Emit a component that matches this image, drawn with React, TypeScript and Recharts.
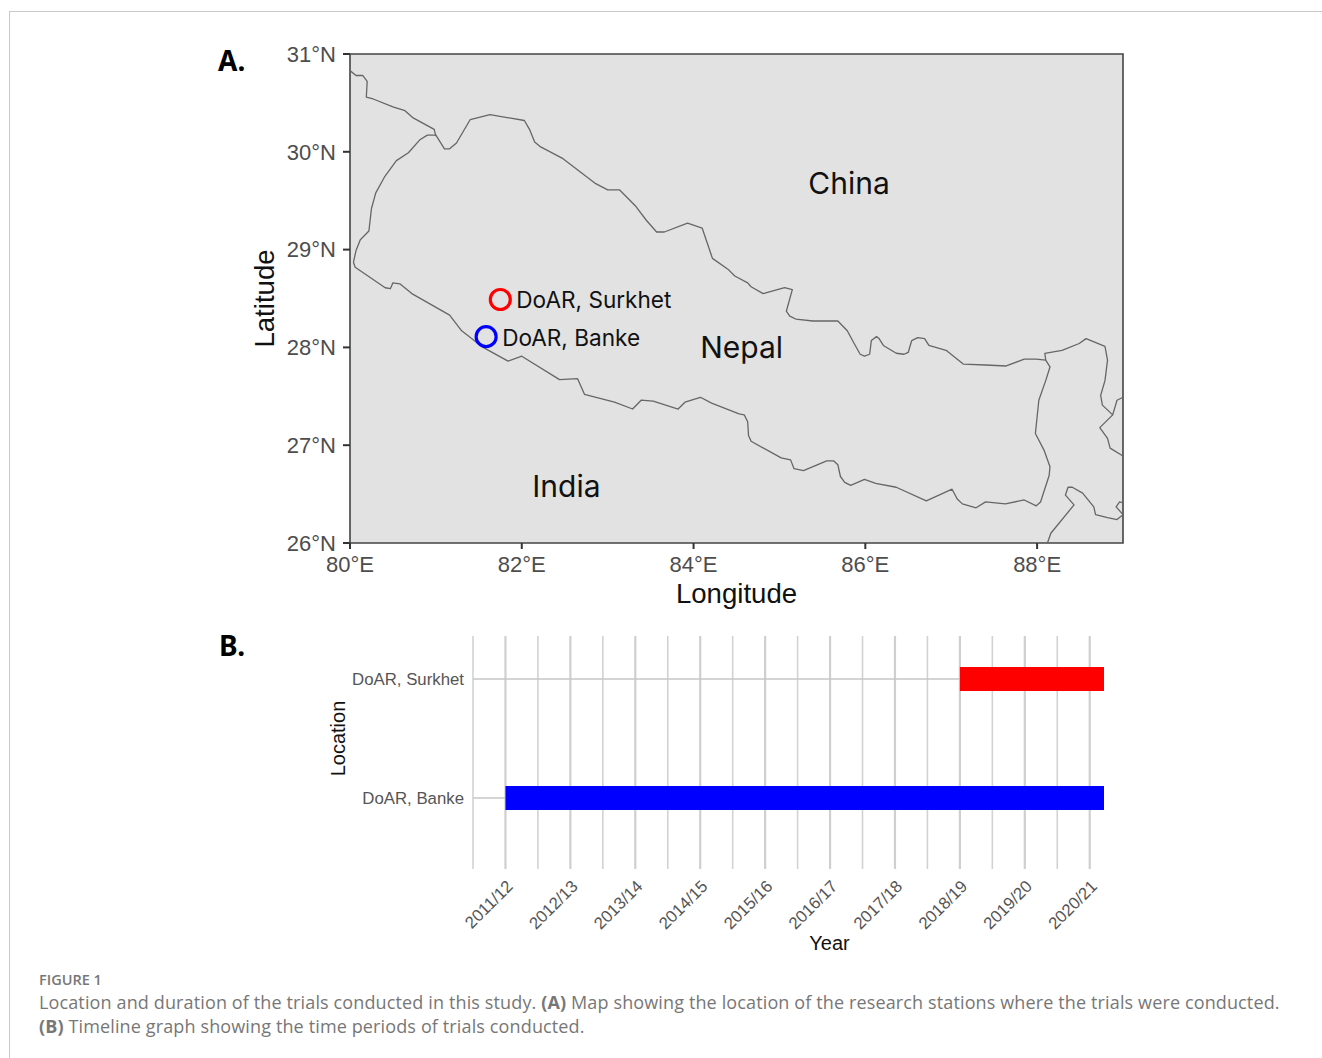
import {
  CartesianGrid,
  ReferenceArea,
  Scatter,
  ScatterChart,
  XAxis,
  YAxis,
} from 'recharts';

type Coord = [number, number];

// Border traces as [longitude, latitude]
const nepalBorder: Coord[] = [
  [80.04, 28.87], [80.07, 28.99], [80.12, 29.1], [80.22, 29.19], [80.25, 29.42], [80.3, 29.58],
  [80.4, 29.74], [80.54, 29.91], [80.68, 29.99], [80.81, 30.12], [80.9, 30.17], [81.0, 30.17],
  [81.1, 30.03], [81.16, 30.03], [81.24, 30.09], [81.4, 30.33], [81.63, 30.38], [82.03, 30.32],
  [82.09, 30.23], [82.15, 30.1], [82.22, 30.05], [82.48, 29.93], [82.85, 29.68], [83.0, 29.61],
  [83.14, 29.61], [83.33, 29.44], [83.45, 29.3], [83.57, 29.18], [83.66, 29.18], [83.93, 29.27],
  [84.1, 29.22], [84.22, 28.91], [84.4, 28.8], [84.48, 28.73], [84.63, 28.66], [84.67, 28.62],
  [84.81, 28.55], [85.06, 28.61], [85.15, 28.59], [85.08, 28.37], [85.12, 28.32], [85.19, 28.29],
  [85.39, 28.27], [85.68, 28.27], [85.79, 28.17], [85.87, 28.04], [85.94, 27.93], [85.99, 27.91],
  [86.05, 27.93], [86.07, 28.07], [86.13, 28.11], [86.16, 28.09], [86.21, 28.02], [86.36, 27.94],
  [86.45, 27.93], [86.5, 27.95], [86.54, 28.07], [86.61, 28.1], [86.69, 28.09], [86.74, 28.02],
  [86.94, 27.97], [87.14, 27.83], [87.4, 27.82], [87.64, 27.81], [87.85, 27.88], [87.99, 27.88],
  [88.1, 27.87], [88.15, 27.8], [88.1, 27.66], [88.02, 27.46], [87.98, 27.12], [88.08, 26.95],
  [88.15, 26.78], [88.14, 26.69], [88.04, 26.42], [87.99, 26.38], [87.85, 26.44], [87.63, 26.4],
  [87.4, 26.42], [87.29, 26.36], [87.13, 26.4], [87.07, 26.45], [87.01, 26.55], [86.71, 26.43],
  [86.36, 26.57], [86.12, 26.61], [85.99, 26.65], [85.83, 26.59], [85.76, 26.62], [85.71, 26.68],
  [85.68, 26.8], [85.63, 26.84], [85.55, 26.84], [85.28, 26.74], [85.17, 26.76], [85.13, 26.85],
  [85.02, 26.87], [84.67, 27.04], [84.64, 27.1], [84.63, 27.24], [84.59, 27.31], [84.53, 27.32],
  [84.21, 27.43], [84.08, 27.49], [83.9, 27.44], [83.82, 27.37], [83.53, 27.45], [83.39, 27.46],
  [83.29, 27.37], [83.08, 27.44], [82.73, 27.52], [82.65, 27.68], [82.44, 27.67], [82.0, 27.91],
  [81.84, 27.86], [81.55, 28.0], [81.3, 28.17], [81.16, 28.33], [80.72, 28.55], [80.58, 28.65],
  [80.5, 28.66], [80.47, 28.6], [80.41, 28.61], [80.06, 28.82], [80.04, 28.87],
];
const chinaIndiaBorder: Coord[] = [
  [80.0, 30.83], [80.07, 30.78], [80.15, 30.78], [80.2, 30.72], [80.19, 30.56], [80.27, 30.54],
  [80.5, 30.46], [80.64, 30.42], [80.73, 30.35], [80.98, 30.23], [81.0, 30.16],
];
const sikkimBorder: Coord[] = [
  [88.1, 27.87], [88.09, 27.94], [88.29, 27.97], [88.49, 28.04], [88.57, 28.09], [88.79, 28.01],
  [88.82, 27.87], [88.79, 27.66], [88.74, 27.51], [88.76, 27.41], [88.88, 27.31], [88.93, 27.46],
  [89.0, 27.49],
];
const bhutanBranch: Coord[] = [
  [88.88, 27.31], [88.73, 27.18], [88.82, 27.07], [88.85, 26.97], [89.0, 26.89],
];
const bangladeshBorder: Coord[] = [
  [88.12, 26.0], [88.16, 26.1], [88.43, 26.39], [88.33, 26.49], [88.36, 26.57], [88.41, 26.57],
  [88.53, 26.51], [88.66, 26.37], [88.68, 26.29], [88.82, 26.26], [88.93, 26.24], [89.0, 26.29],
  [88.92, 26.37], [88.96, 26.42], [89.0, 26.41],
];
const borders = [nepalBorder, chinaIndiaBorder, sikkimBorder, bhutanBranch, bangladeshBorder];

const lonTicks = [80, 82, 84, 86, 88];
const latTicks = [26, 27, 28, 29, 30, 31];

const stations = [
  { name: 'DoAR, Surkhet', lon: 81.75, lat: 28.49, color: '#ff0000' },
  { name: 'DoAR, Banke', lon: 81.585, lat: 28.11, color: '#0000ff' },
];
const countries = [
  { name: 'China', lon: 85.81, lat: 29.67 },
  { name: 'Nepal', lon: 84.56, lat: 27.99 },
  { name: 'India', lon: 82.52, lat: 26.57 },
];

// Timeline
const seasons = ['2011/12', '2012/13', '2013/14', '2014/15', '2015/16', '2016/17', '2017/18', '2018/19', '2019/20', '2020/21'];
const seasonStarts = [2011, 2012, 2013, 2014, 2015, 2016, 2017, 2018, 2019, 2020];
const halfYears = [2010.5, 2011.5, 2012.5, 2013.5, 2014.5, 2015.5, 2016.5, 2017.5, 2018.5, 2019.5];
const locations = ['DoAR, Banke', 'DoAR, Surkhet'];
const surkhetPeriod = [2018, 2020.22];
const bankePeriod = [2011, 2020.22];

const toPoints = (line: Coord[]) => line.map(([lon, lat]) => ({ lon, lat }));
const axisFont = 'Liberation Sans, Arial, sans-serif';
const noteFont = '"Open Sans", "Noto Sans", sans-serif';
const mapFont = 'Inter, "Noto Sans", sans-serif';

const StationMark = ({ cx, cy, payload }: any) => (
  <g>
    <circle cx={cx} cy={cy} r={10} fill="none" stroke={payload.color} strokeWidth={3.2} />
    <text x={cx + 16} y={cy + 9} fontFamily={mapFont} fontSize={22.6} fill="#111">
      {payload.name}
    </text>
  </g>
);

const CountryName = ({ cx, cy, payload }: any) => (
  <text x={cx} y={cy + 10} textAnchor="middle" fontFamily={mapFont} fontSize={30} fill="#111">
    {payload.name}
  </text>
);

function MapPanel() {
  return (
    <ScatterChart
      width={950}
      height={600}
      margin={{ top: 24, right: 27, left: 0, bottom: 0 }}
      style={{ position: 'absolute', left: 200, top: 30 }}
    >
      <XAxis
        type="number"
        dataKey="lon"
        domain={[80, 89]}
        ticks={lonTicks}
        tickFormatter={(v) => `${v}°E`}
        height={87}
        tick={{ fill: '#4d4d4d', fontSize: 22, fontFamily: axisFont }}
        tickSize={6}
        tickMargin={7}
        tickLine={{ stroke: '#333', strokeWidth: 2 }}
        axisLine={false}
        label={{ value: 'Longitude', position: 'insideBottom', offset: 27, fill: '#111', fontSize: 27.6, fontFamily: axisFont }}
      />
      <YAxis
        type="number"
        dataKey="lat"
        domain={[26, 31]}
        ticks={latTicks}
        tickFormatter={(v) => `${v}°N`}
        width={150}
        tick={{ fill: '#4d4d4d', fontSize: 22, fontFamily: axisFont }}
        tickSize={7}
        tickMargin={7}
        tickLine={{ stroke: '#333', strokeWidth: 2 }}
        axisLine={false}
        label={{ value: 'Latitude', angle: -90, position: 'insideLeft', offset: 64, textAnchor: 'middle', fill: '#111', fontSize: 27.6, fontFamily: axisFont }}
      />
      <ReferenceArea x1={80} x2={89} y1={26} y2={31} fill="#e2e2e2" fillOpacity={1} stroke="#444" strokeWidth={1.6} />
      {borders.map((border, i) => (
        <Scatter
          key={i}
          data={toPoints(border)}
          line={{ stroke: '#666', strokeWidth: 1.3, strokeLinejoin: 'round' }}
          shape={() => null}
          isAnimationActive={false}
        />
      ))}
      <Scatter data={stations} shape={<StationMark />} isAnimationActive={false} />
      <Scatter data={countries} shape={<CountryName />} isAnimationActive={false} />
    </ScatterChart>
  );
}

function TimelinePanel() {
  return (
    <ScatterChart
      width={814}
      height={350}
      margin={{ top: 26, right: 10, left: 0, bottom: 0 }}
      style={{ position: 'absolute', left: 300, top: 610 }}
    >
      <CartesianGrid horizontal={false} verticalValues={halfYears} stroke="#d2d2d2" strokeWidth={1.6} />
      <CartesianGrid horizontal={false} verticalValues={seasonStarts} stroke="#cfcfcf" strokeWidth={2.2} />
      <CartesianGrid vertical={false} horizontalValues={[1, 2]} stroke="#c6c6c6" strokeWidth={1.5} />
      <XAxis
        type="number"
        dataKey="x"
        domain={[2010.5, 2020.22]}
        ticks={seasonStarts}
        tickFormatter={(v) => seasons[seasonStarts.indexOf(v)]}
        height={91}
        angle={-45}
        textAnchor="end"
        tick={{ fill: '#555', fontSize: 16.8, fontFamily: axisFont }}
        tickSize={0}
        tickMargin={10}
        tickLine={false}
        axisLine={false}
        label={{ value: 'Year', position: 'insideBottom', offset: 10, dx: 41, fill: '#111', fontSize: 20, fontFamily: axisFont }}
      />
      <YAxis
        type="number"
        dataKey="y"
        domain={[0.403, 2.361]}
        ticks={[1, 2]}
        tickFormatter={(v) => locations[v - 1]}
        width={173}
        tick={{ fill: '#555', fontSize: 16.8, fontFamily: axisFont }}
        tickSize={0}
        tickMargin={9}
        tickLine={false}
        axisLine={false}
        label={{ value: 'Location', angle: -90, position: 'insideLeft', offset: 38, dy: -14, textAnchor: 'middle', fill: '#111', fontSize: 20, fontFamily: axisFont }}
      />
      <Scatter
        data={surkhetPeriod.map((x) => ({ x, y: 2 }))}
        line={{ stroke: '#ff0000', strokeWidth: 24 }}
        shape={() => null}
        isAnimationActive={false}
      />
      <Scatter
        data={bankePeriod.map((x) => ({ x, y: 1 }))}
        line={{ stroke: '#0000ff', strokeWidth: 24 }}
        shape={() => null}
        isAnimationActive={false}
      />
    </ScatterChart>
  );
}

export default function App() {
  return (
    <div style={{ position: 'absolute', left: 0, top: 0, width: 1322, height: 1058, background: '#fff', overflow: 'hidden' }}>
      <div style={{ position: 'absolute', left: 9, top: 11, right: 0, bottom: 0, borderTop: '1.5px solid #c9c9c9', borderLeft: '1.5px solid #c9c9c9' }} />
      <MapPanel />
      <TimelinePanel />
      <div style={{ position: 'absolute', left: 218, top: 41, fontFamily: '"Noto Sans", sans-serif', fontWeight: 700, fontSize: 28, lineHeight: '38px', color: '#000' }}>A.</div>
      <div style={{ position: 'absolute', left: 219, top: 626, fontFamily: '"Noto Sans", sans-serif', fontWeight: 700, fontSize: 28, lineHeight: '38px', color: '#000' }}>B.</div>
      <div style={{ position: 'absolute', left: 39, top: 971, fontFamily: noteFont, fontSize: 14.5, fontWeight: 600, lineHeight: '18px', color: '#777' }}>FIGURE 1</div>
      <div style={{ position: 'absolute', left: 39, top: 990, width: 1275, fontFamily: noteFont, fontSize: 18, letterSpacing: 0.13, lineHeight: '24px', color: '#777' }}>
        Location and duration of the trials conducted in this study. <b>(A)</b> Map showing the location of the research stations where the trials were conducted.
        <br />
        <b>(B)</b> Timeline graph showing the time periods of trials conducted.
      </div>
    </div>
  );
}
